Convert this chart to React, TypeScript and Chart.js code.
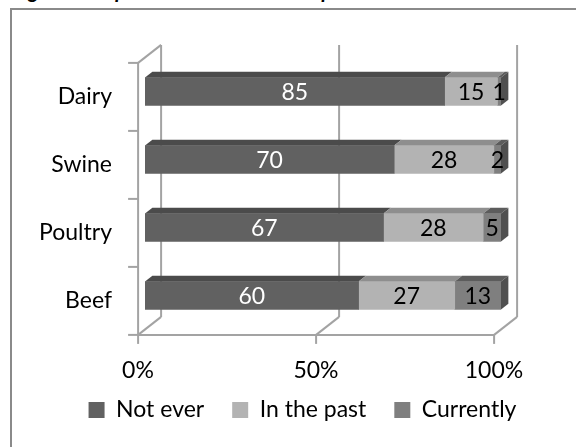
import React, { useEffect, useRef } from "react";
import { Chart, registerables } from "chart.js";

Chart.register(...registerables);

const categories = ["Dairy", "Swine", "Poultry", "Beef"];
const notEver = [85, 70, 67, 60];
const inThePast = [15, 28, 28, 27];
const currently = [1, 2, 5, 13];
const seriesNames = ["Not ever", "In the past", "Currently"];
const xTickValues = [0, 50, 100];
const titleText = "Figure 3. Experience with livestock production";

const frontColors = ["#616161", "#b3b3b3", "#7f7f7f"];
const topColors = ["#4b4b4b", "#8e8e8e", "#5c5c5c"];
const sideColor = "#505050";
const labelColors = ["#ffffff", "#000000", "#000000"];
const FONT = "Lato, 'Open Sans', sans-serif";

const DEPTH = { x: 23, y: -18 };
const F0 = 0.3;
const F1 = 0.62;

const raw = [notEver, inThePast, currently];
const totals = categories.map((_, i) => raw.reduce((s, arr) => s + arr[i], 0));
const pct = raw.map((arr) => arr.map((v, i) => (v / totals[i]) * 100));

const noClip = (s: any) => {
  s._computeLabelArea = () => undefined;
};

const threeD = {
  id: "threeD",
  beforeDatasetsDraw(chart: any) {
    const { ctx, chartArea: a, scales } = chart;
    const xs = scales.x;
    const ys = scales.y;
    const fx = -F0 * DEPTH.x;
    const fy = -F0 * DEPTH.y;
    const bx = (1 - F0) * DEPTH.x;
    const by = (1 - F0) * DEPTH.y;
    ctx.save();
    ctx.strokeStyle = "#a3a3a3";
    ctx.lineWidth = 2;
    const line = (x1: number, y1: number, x2: number, y2: number) => {
      ctx.beginPath();
      ctx.moveTo(x1, y1);
      ctx.lineTo(x2, y2);
      ctx.stroke();
    };
    const x0 = xs.getPixelForValue(0);
    xTickValues.forEach((v) => {
      const X = xs.getPixelForValue(v);
      line(X + bx, a.top + by, X + bx, a.bottom + by);
      line(X + fx, a.bottom + fy, X + bx, a.bottom + by);
      line(X + fx, a.bottom + fy, X + fx, a.bottom + fy + 9);
    });
    line(x0 + fx, a.bottom + fy, xs.getPixelForValue(100) + fx, a.bottom + fy);
    line(x0 + fx, a.top + fy, x0 + fx, a.bottom + fy);
    line(x0 + fx, a.top + fy, x0 + bx, a.top + by);
    for (let i = 0; i <= categories.length; i++) {
      const yb = ys.getPixelForValue(i - 0.5) + fy;
      line(x0 + fx - 10, yb, x0 + fx, yb);
    }
    ctx.restore();
  },
  afterDatasetsDraw(chart: any) {
    const { ctx } = chart;
    const dx = (F1 - F0) * DEPTH.x;
    const dy = (F1 - F0) * DEPTH.y;
    const n = chart.data.datasets.length;
    ctx.save();
    for (let di = 0; di < n; di++) {
      const meta = chart.getDatasetMeta(di);
      meta.data.forEach((el: any) => {
        const p = el.getProps(["x", "y", "base", "height"], true);
        const top = p.y - p.height / 2;
        const bottom = p.y + p.height / 2;
        const l = Math.min(p.x, p.base);
        const r = Math.max(p.x, p.base);
        ctx.fillStyle = topColors[di];
        ctx.beginPath();
        ctx.moveTo(l, top);
        ctx.lineTo(r, top);
        ctx.lineTo(r + dx, top + dy);
        ctx.lineTo(l + dx, top + dy);
        ctx.closePath();
        ctx.fill();
        if (di === n - 1) {
          ctx.fillStyle = sideColor;
          ctx.beginPath();
          ctx.moveTo(r, top);
          ctx.lineTo(r + dx, top + dy);
          ctx.lineTo(r + dx, bottom + dy);
          ctx.lineTo(r, bottom);
          ctx.closePath();
          ctx.fill();
        }
      });
    }
    ctx.font = `23px ${FONT}`;
    ctx.textAlign = "center";
    ctx.textBaseline = "middle";
    for (let di = 0; di < n; di++) {
      const meta = chart.getDatasetMeta(di);
      meta.data.forEach((el: any, i: number) => {
        const p = el.getProps(["x", "y", "base"], true);
        ctx.fillStyle = labelColors[di];
        ctx.fillText(String(raw[di][i]), (p.x + p.base) / 2, p.y + 1);
      });
    }
    ctx.restore();
  },
};

export default function App() {
  const ref = useRef<HTMLCanvasElement | null>(null);
  useEffect(() => {
    if (!ref.current) return;
    const chart = new Chart(ref.current, {
      type: "bar",
      data: {
        labels: categories,
        datasets: seriesNames.map((name, di) => ({
          label: name,
          data: pct[di],
          backgroundColor: frontColors[di],
          borderWidth: 0,
          barThickness: 28,
        })),
      },
      options: {
        indexAxis: "y",
        animation: false,
        responsive: false,
        events: [],
        layout: { padding: { left: 52.5, right: 23.5, top: 57.5, bottom: 15.5 } },
        scales: {
          x: {
            stacked: true,
            min: 0,
            max: 100,
            grid: { display: false, drawTicks: false },
            border: { display: false },
            afterFit: (s: any) => {
              s.height = 41;
              noClip(s);
            },
            afterBuildTicks: (s: any) => {
              s.ticks = xTickValues.map((v) => ({ value: v }));
            },
            ticks: {
              padding: 27,
              labelOffset: -7,
              color: "#000",
              font: { family: FONT, size: 23 },
              callback: (v: any) => `${v}%`,
            },
          },
          y: {
            stacked: true,
            grid: { display: false, drawTicks: false },
            border: { display: false },
            afterFit: (s: any) => {
              s.width = 92.5;
              noClip(s);
            },
            ticks: {
              padding: 33,
              labelOffset: 5.5,
              color: "#000",
              font: { family: FONT, size: 23 },
            },
          },
          yRight: {
            type: "linear",
            position: "right",
            display: true,
            grid: { display: false, drawTicks: false },
            border: { display: false },
            ticks: { display: false },
            afterFit: (s: any) => {
              s.width = 51.5;
            },
          },
        },
        plugins: {
          legend: {
            position: "bottom",
            labels: {
              boxWidth: 16,
              boxHeight: 16,
              padding: 28,
              color: "#000",
              font: { family: FONT, size: 23 },
            },
          },
          tooltip: { enabled: false },
        },
      },
      plugins: [threeD],
    });
    return () => chart.destroy();
  }, []);

  return (
    <div
      style={{
        position: "fixed",
        left: 0,
        top: 0,
        width: 576,
        height: 447,
        overflow: "hidden",
        background: "#fff",
      }}
    >
      <div
        style={{
          position: "absolute",
          left: 12,
          top: 0,
          width: 564,
          height: 6,
          overflow: "hidden",
        }}
      >
        <div
          style={{
            position: "absolute",
            left: 0,
            bottom: 4.5,
            whiteSpace: "nowrap",
            font: `italic bold 21px/25px ${FONT}`,
            color: "#000",
          }}
        >
          {titleText}
        </div>
      </div>
      <div
        style={{
          position: "absolute",
          left: 10,
          top: 8,
          width: 620,
          height: 500,
          border: "2px solid #8a8a8a",
          boxSizing: "border-box",
        }}
      />
      <canvas
        ref={ref}
        width={576}
        height={447}
        style={{ position: "absolute", left: 0, top: 0 }}
      />
    </div>
  );
}
